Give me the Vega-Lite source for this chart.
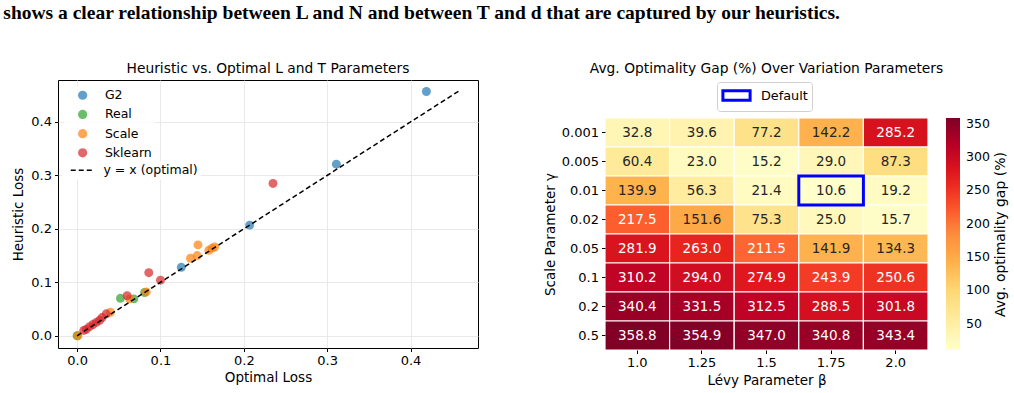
{
  "$schema": "https://vega.github.io/schema/vega-lite/v6.json",
  "background": "white",
  "padding": {"left": 3, "top": 2, "right": 4, "bottom": 4},
  "title": {
    "text": "shows a clear relationship between L and N and between T and d that are captured by our heuristics.",
    "anchor": "start",
    "font": "Liberation Serif",
    "fontSize": 19.5,
    "fontWeight": "bold",
    "color": "black",
    "offset": 38.5,
    "dx": -8
  },
  "spacing": 64,
  "hconcat": [
    {
      "width": 420,
      "height": 268,
      "title": {"text": "Heuristic vs. Optimal L and T Parameters", "offset": 4},
      "view": {"stroke": "black", "strokeWidth": 1},
      "layer": [
        {
          "data": {
            "values": [
              {"dataset": "G2", "optimal": 0.419, "heuristic": 0.457},
              {"dataset": "G2", "optimal": 0.311, "heuristic": 0.321},
              {"dataset": "G2", "optimal": 0.207, "heuristic": 0.207},
              {"dataset": "G2", "optimal": 0.125, "heuristic": 0.128},
              {"dataset": "Real", "optimal": 0.0, "heuristic": 0.0},
              {"dataset": "Real", "optimal": 0.052, "heuristic": 0.070},
              {"dataset": "Real", "optimal": 0.068, "heuristic": 0.069},
              {"dataset": "Real", "optimal": 0.081, "heuristic": 0.081},
              {"dataset": "Scale", "optimal": 0.001, "heuristic": 0.0},
              {"dataset": "Scale", "optimal": 0.040, "heuristic": 0.044},
              {"dataset": "Scale", "optimal": 0.063, "heuristic": 0.069},
              {"dataset": "Scale", "optimal": 0.083, "heuristic": 0.082},
              {"dataset": "Scale", "optimal": 0.136, "heuristic": 0.145},
              {"dataset": "Scale", "optimal": 0.144, "heuristic": 0.150},
              {"dataset": "Scale", "optimal": 0.145, "heuristic": 0.170},
              {"dataset": "Scale", "optimal": 0.158, "heuristic": 0.160},
              {"dataset": "Scale", "optimal": 0.162, "heuristic": 0.164},
              {"dataset": "Scale", "optimal": 0.165, "heuristic": 0.166},
              {"dataset": "Sklearn", "optimal": 0.235, "heuristic": 0.285},
              {"dataset": "Sklearn", "optimal": 0.086, "heuristic": 0.118},
              {"dataset": "Sklearn", "optimal": 0.100, "heuristic": 0.104},
              {"dataset": "Sklearn", "optimal": 0.060, "heuristic": 0.075},
              {"dataset": "Sklearn", "optimal": 0.035, "heuristic": 0.041},
              {"dataset": "Sklearn", "optimal": 0.030, "heuristic": 0.034},
              {"dataset": "Sklearn", "optimal": 0.027, "heuristic": 0.029},
              {"dataset": "Sklearn", "optimal": 0.023, "heuristic": 0.025},
              {"dataset": "Sklearn", "optimal": 0.019, "heuristic": 0.021},
              {"dataset": "Sklearn", "optimal": 0.015, "heuristic": 0.017},
              {"dataset": "Sklearn", "optimal": 0.011, "heuristic": 0.012},
              {"dataset": "Sklearn", "optimal": 0.008, "heuristic": 0.010}
            ]
          },
          "mark": {"type": "point", "filled": true, "size": 80, "opacity": 0.7, "strokeWidth": 0},
          "encoding": {
            "x": {
              "field": "optimal",
              "type": "quantitative",
              "title": "Optimal Loss",
              "scale": {"domain": [-0.0229, 0.4809], "nice": false, "zero": false},
              "axis": {"values": [0, 0.1, 0.2, 0.3, 0.4], "format": ".1f", "grid": true, "domain": false, "titlePadding": 3}
            },
            "y": {
              "field": "heuristic",
              "type": "quantitative",
              "title": "Heuristic Loss",
              "scale": {"domain": [-0.0229, 0.4785], "nice": false, "zero": false},
              "axis": {"values": [0, 0.1, 0.2, 0.3, 0.4], "format": ".1f", "grid": true, "domain": false, "titlePadding": 5}
            },
            "color": {
              "field": "dataset",
              "type": "nominal",
              "scale": {
                "domain": ["G2", "Real", "Scale", "Sklearn"],
                "range": ["#1f77b4", "#2ca02c", "#ff7f0e", "#d62728"]
              },
              "legend": {
                "title": null,
                "orient": "top-left",
                "offset": 6,
                "padding": 3,
                "fillColor": "rgba(255,255,255,0.85)",
                "labelFontSize": 12.5,
                "symbolSize": 85,
                "symbolOpacity": 0.7,
                "symbolOffset": 9.4,
                "labelOffset": 16,
                "rowPadding": 6.2
              }
            }
          }
        },
        {
          "data": {"values": [{"optimal": 0, "heuristic": 0, "line": "y = x (optimal)"}, {"optimal": 0.458, "heuristic": 0.458, "line": "y = x (optimal)"}]},
          "mark": {"type": "line", "color": "black", "strokeWidth": 1.5},
          "encoding": {
            "x": {"field": "optimal", "type": "quantitative"},
            "y": {"field": "heuristic", "type": "quantitative"},
            "strokeDash": {
              "field": "line",
              "type": "nominal",
              "scale": {"range": [[5, 3]]},
              "legend": {
                "title": null,
                "orient": "none",
                "legendX": 4,
                "legendY": 81,
                "padding": 3,
                "fillColor": "rgba(255,255,255,0.85)",
                "labelFontSize": 12.5,
                "symbolType": "M-4,0H4",
                "symbolSize": 36,
                "symbolStrokeWidth": 1.5,
                "symbolStrokeColor": "black",
                "symbolFillColor": "transparent",
                "symbolDash": [4, 2.5],
                "symbolOffset": 11.5,
                "labelOffset": 14.5
              }
            }
          }
        }
      ]
    },
    {
      "width": 323,
      "height": 270,
      "title": {"text": "Avg. Optimality Gap (%) Over Variation Parameters", "offset": 4},
      "data": {
        "values": [
          {"gamma": "0.001", "beta": "1.0", "gap": 32.8},
          {"gamma": "0.001", "beta": "1.25", "gap": 39.6},
          {"gamma": "0.001", "beta": "1.5", "gap": 77.2},
          {"gamma": "0.001", "beta": "1.75", "gap": 142.2},
          {"gamma": "0.001", "beta": "2.0", "gap": 285.2},
          {"gamma": "0.005", "beta": "1.0", "gap": 60.4},
          {"gamma": "0.005", "beta": "1.25", "gap": 23.0},
          {"gamma": "0.005", "beta": "1.5", "gap": 15.2},
          {"gamma": "0.005", "beta": "1.75", "gap": 29.0},
          {"gamma": "0.005", "beta": "2.0", "gap": 87.3},
          {"gamma": "0.01", "beta": "1.0", "gap": 139.9},
          {"gamma": "0.01", "beta": "1.25", "gap": 56.3},
          {"gamma": "0.01", "beta": "1.5", "gap": 21.4},
          {"gamma": "0.01", "beta": "1.75", "gap": 10.6},
          {"gamma": "0.01", "beta": "2.0", "gap": 19.2},
          {"gamma": "0.02", "beta": "1.0", "gap": 217.5},
          {"gamma": "0.02", "beta": "1.25", "gap": 151.6},
          {"gamma": "0.02", "beta": "1.5", "gap": 75.3},
          {"gamma": "0.02", "beta": "1.75", "gap": 25.0},
          {"gamma": "0.02", "beta": "2.0", "gap": 15.7},
          {"gamma": "0.05", "beta": "1.0", "gap": 281.9},
          {"gamma": "0.05", "beta": "1.25", "gap": 263.0},
          {"gamma": "0.05", "beta": "1.5", "gap": 211.5},
          {"gamma": "0.05", "beta": "1.75", "gap": 141.9},
          {"gamma": "0.05", "beta": "2.0", "gap": 134.3},
          {"gamma": "0.1", "beta": "1.0", "gap": 310.2},
          {"gamma": "0.1", "beta": "1.25", "gap": 294.0},
          {"gamma": "0.1", "beta": "1.5", "gap": 274.9},
          {"gamma": "0.1", "beta": "1.75", "gap": 243.9},
          {"gamma": "0.1", "beta": "2.0", "gap": 250.6},
          {"gamma": "0.2", "beta": "1.0", "gap": 340.4},
          {"gamma": "0.2", "beta": "1.25", "gap": 331.5},
          {"gamma": "0.2", "beta": "1.5", "gap": 312.5},
          {"gamma": "0.2", "beta": "1.75", "gap": 288.5},
          {"gamma": "0.2", "beta": "2.0", "gap": 301.8},
          {"gamma": "0.5", "beta": "1.0", "gap": 358.8},
          {"gamma": "0.5", "beta": "1.25", "gap": 354.9},
          {"gamma": "0.5", "beta": "1.5", "gap": 347.0},
          {"gamma": "0.5", "beta": "1.75", "gap": 340.8},
          {"gamma": "0.5", "beta": "2.0", "gap": 343.4}
        ]
      },
      "encoding": {
        "x": {
          "field": "beta",
          "type": "ordinal",
          "sort": ["1.0", "1.25", "1.5", "1.75", "2.0"],
          "title": "Lévy Parameter β",
          "scale": {"paddingInner": 0, "paddingOuter": 0},
          "axis": {"labelAngle": 0, "domain": false, "titlePadding": 4}
        },
        "y": {
          "field": "gamma",
          "type": "ordinal",
          "sort": ["0.001", "0.005", "0.01", "0.02", "0.05", "0.1", "0.2", "0.5"],
          "title": "Scale Parameter γ",
          "scale": {"paddingInner": 0, "paddingOuter": 0, "range": [38, 270]},
          "axis": {"domain": false, "titlePadding": 4}
        }
      },
      "resolve": {"axis": {"y": "independent"}},
      "layer": [
        {
          "mark": {"type": "rect", "stroke": "white", "strokeWidth": 1.2},
          "encoding": {
            "color": {
              "field": "gap",
              "type": "quantitative",
              "scale": {
                "type": "linear",
                "domain": [10.6, 54.125, 97.65, 141.175, 184.7, 228.225, 271.75, 315.275, 358.8],
                "range": ["#ffffcc", "#ffeda0", "#fed976", "#feb24c", "#fd8d3c", "#fc4e2a", "#e31a1c", "#bd0026", "#800026"],
                "interpolate": "rgb"
              },
              "legend": {
                "title": null,
                "orient": "none",
                "legendX": 341,
                "legendY": 38,
                "padding": 0,
                "direction": "vertical",
                "gradientLength": 232,
                "gradientThickness": 14,
                "gradientStrokeWidth": 0,
                "values": [50, 100, 150, 200, 250, 300, 350],
                "labelFontSize": 12.5,
                "labelOffset": 6
              }
            }
          }
        },
        {
          "mark": {"type": "text", "fontSize": 13.5},
          "encoding": {
            "y": {
              "field": "gamma",
              "type": "ordinal",
              "sort": ["0.001", "0.005", "0.01", "0.02", "0.05", "0.1", "0.2", "0.5"],
              "scale": {"paddingInner": 0, "paddingOuter": 0, "range": [38, 270]},
              "axis": {
                "orient": "right",
                "title": "Avg. optimality gap (%)",
                "labels": false,
                "ticks": false,
                "domain": false,
                "offset": 70,
                "titleAngle": 270,
                "titleBaseline": "middle",
                "titlePadding": 2,
                "titleFontSize": 14
              }
            },
            "text": {"field": "gap", "type": "quantitative", "format": ".1f"},
            "color": {"condition": {"test": "datum.gap > 180", "value": "white"}, "value": "#262626"}
          }
        },
        {
          "data": {"values": [{"gamma": "0.01", "beta": "1.75", "marker": "Default"}]},
          "mark": {"type": "rect", "filled": false, "strokeWidth": 3},
          "encoding": {
            "y": {
              "field": "gamma",
              "type": "ordinal",
              "sort": ["0.001", "0.005", "0.01", "0.02", "0.05", "0.1", "0.2", "0.5"],
              "scale": {"paddingInner": 0, "paddingOuter": 0, "range": [38, 270]},
              "axis": null
            },
            "stroke": {
              "field": "marker",
              "type": "nominal",
              "scale": {"range": ["#0000ff"]},
              "legend": {
                "title": null,
                "orient": "none",
                "legendX": 659,
                "legendY": 2,
                "padding": 4,
                "fillColor": "white",
                "strokeColor": "#d0d0d0",
                "cornerRadius": 3,
                "labelFontSize": 12.8,
                "symbolType": "M-1.7,-0.6H1.7V0.6H-1.7Z",
                "symbolSize": 256,
                "symbolStrokeWidth": 3,
                "symbolFillColor": "white",
                "symbolStrokeColor": "#0000ff",
                "symbolOffset": 6,
                "labelOffset": 15
              }
            }
          }
        }
      ]
    }
  ],
  "config": {
    "font": "DejaVu Sans",
    "view": {"stroke": null},
    "title": {"font": "DejaVu Sans", "fontSize": 13.8, "fontWeight": "normal", "color": "black"},
    "axis": {
      "labelFont": "DejaVu Sans",
      "titleFont": "DejaVu Sans",
      "labelFontSize": 13,
      "titleFontSize": 13.5,
      "titleFontWeight": "normal",
      "labelColor": "black",
      "titleColor": "black",
      "tickColor": "black",
      "tickSize": 3.5,
      "tickWidth": 1,
      "labelPadding": 3,
      "gridColor": "#e6e6e6",
      "gridWidth": 0.9
    },
    "legend": {
      "labelFont": "DejaVu Sans",
      "titleFont": "DejaVu Sans",
      "labelColor": "black",
      "titleColor": "black"
    }
  }
}
